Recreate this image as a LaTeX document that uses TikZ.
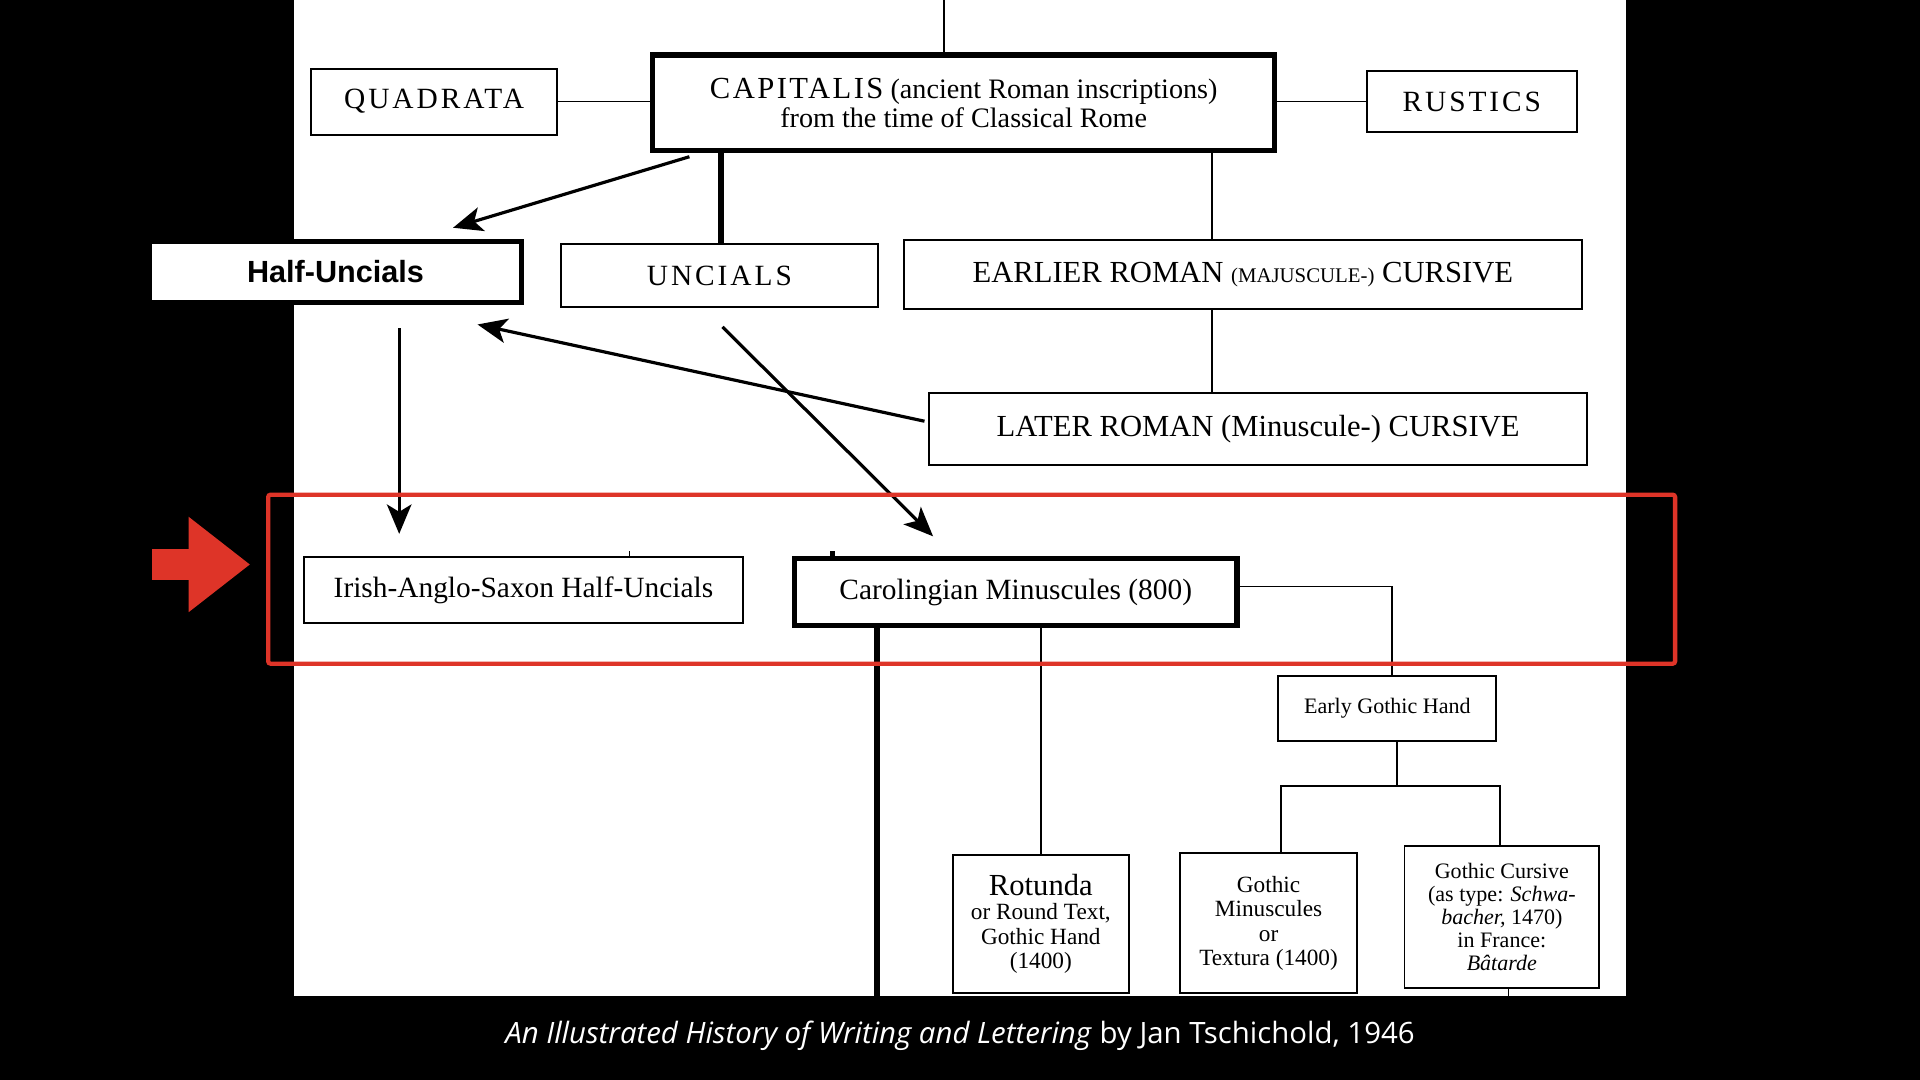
\documentclass[tikz,border=0pt]{standalone}
\usepackage{fontspec}
\setmainfont{Liberation Serif}
\newfontfamily\sansb{Liberation Sans}
\newfontfamily\capt{Open Sans}
\usetikzlibrary{arrows.meta}
\definecolor{redm}{RGB}{222,52,40}
\begin{document}
\begin{tikzpicture}[x=1pt,y=-1pt,
  box/.style={draw,fill=white,line width=1.6pt,inner sep=0pt,align=center},
  tbox/.style={box,line width=4.5pt},
  ln/.style={line width=1.4pt},
  arr/.style={line width=2.6pt,-{Stealth[length=24pt,width=20pt,inset=6pt]}},
  fs/.style={font=\fontsize{#1}{#1}\selectfont\linespread{1.05}\selectfont}]
\fill[black] (0,0) rectangle (1568,882);
\fill[white] (240,0) rectangle (1328,813);
\useasboundingbox (0,0) rectangle (1568,882);
% row 1
\node[tbox,minimum width=508,minimum height=78,fs=23] (cap) at (787,84)
 {{\addfontfeature{LetterSpace=8}\fontsize{25}{28}\selectfont CAPITALIS} (ancient Roman inscriptions)\\from the time of Classical Rome};
\node[box,minimum width=201,minimum height=54,fs=24] (quad) at (354.5,83) {\addfontfeature{LetterSpace=10}QUADRATA};
\node[box,minimum width=172,minimum height=50,fs=24] (rus) at (1202,83) {\addfontfeature{LetterSpace=10}RUSTICS};
\draw[ln] (771,0) -- (cap.north -| 771,0);
\draw[ln] (quad.east) -- (quad.east -| cap.west);
\draw[ln] (rus.west) -- (rus.west -| cap.east);
% row 2
\node[tbox,line width=4pt,minimum width=304,minimum height=50,font=\sansb\bfseries\fontsize{25}{28}\selectfont] (half) at (274,222) {Half-Uncials};
\node[box,minimum width=259,minimum height=52,fs=24] (unc) at (587.5,225) {\addfontfeature{LetterSpace=10}UNCIALS};
\node[box,minimum width=554,minimum height=56,fs=25] (ear) at (1015,224) {EARLIER ROMAN {\fontsize{17}{20}\selectfont(MAJUSCULE-)} CURSIVE};
\node[box,minimum width=537,minimum height=59,fs=25] (lat) at (1027.5,350.5) {LATER ROMAN (Minuscule-) CURSIVE};
\draw[line width=4.5pt] (589,124) -- (unc.north -| 589,0);
\draw[ln] (990,124) -- (ear.north -| 990,0);
\draw[ln] (990,252) -- (lat.north -| 990,0);
% row 3
\node[box,minimum width=359,minimum height=54,fs=24] (iri) at (427.5,482) {Irish-Anglo-Saxon Half-Uncials};
\node[tbox,minimum width=361,minimum height=55,fs=24] (car) at (829.5,483.5) {Carolingian Minuscules (800)};
\draw[ln] (514,450) -- (514,455);
\draw[line width=4pt] (680,450) -- (680,457);
\node[box,minimum width=178,minimum height=53,fs=18] (egh) at (1133,578.5) {Early Gothic Hand};
\draw[ln] (car.east |- 0,479) -- (1137,479) -- (1137,552);
% row 4
\node[box,minimum width=144,minimum height=113,fs=19] (rot) at (850,754.5) {{\fontsize{25}{27}\selectfont Rotunda}\\or Round Text,\\Gothic Hand\\(1400)};
\node[box,minimum width=144,minimum height=114,fs=19] (gm) at (1036,754) {Gothic\\Minuscules\\or\\Textura (1400)};
\node[box,minimum width=159,minimum height=116,fs=18] (gc) at (1226.5,749) {Gothic Cursive\\(as type: \textit{Schwa-}\\\textit{bacher,} 1470)\\in France:\\\textit{Bâtarde}};
\draw[ln] (1141,605) -- (1141,642);
\draw[ln] (1046,697) -- (1046,642) -- (1225,642) -- (1225,691);
\draw[line width=4.5pt] (716,512) -- (716,813);
\draw[ln] (850,512) -- (850,698);
\draw[ln] (1232,807) -- (1232,813);
% arrows
\draw[arr] (563,128) -- (370,186);
\draw[arr] (755,344) -- (390,265);
\draw[arr] (326,268) -- (326,436);
\draw[arr] (590,267) -- (762,438);
% red overlay
\draw[redm,line width=3.5pt,rounded corners=2pt] (219,404) rectangle (1368,542);
\fill[redm] (124,448) rectangle (158,474);
\fill[redm] (154,422) -- (204,461) -- (154,500) -- cycle;
\node[white,font=\capt\fontsize{24}{26}\selectfont] (cap2) at (784,846) {\textit{An Illustrated History of Writing and Lettering} by Jan Tschichold, 1946};
\end{tikzpicture}
\end{document}
